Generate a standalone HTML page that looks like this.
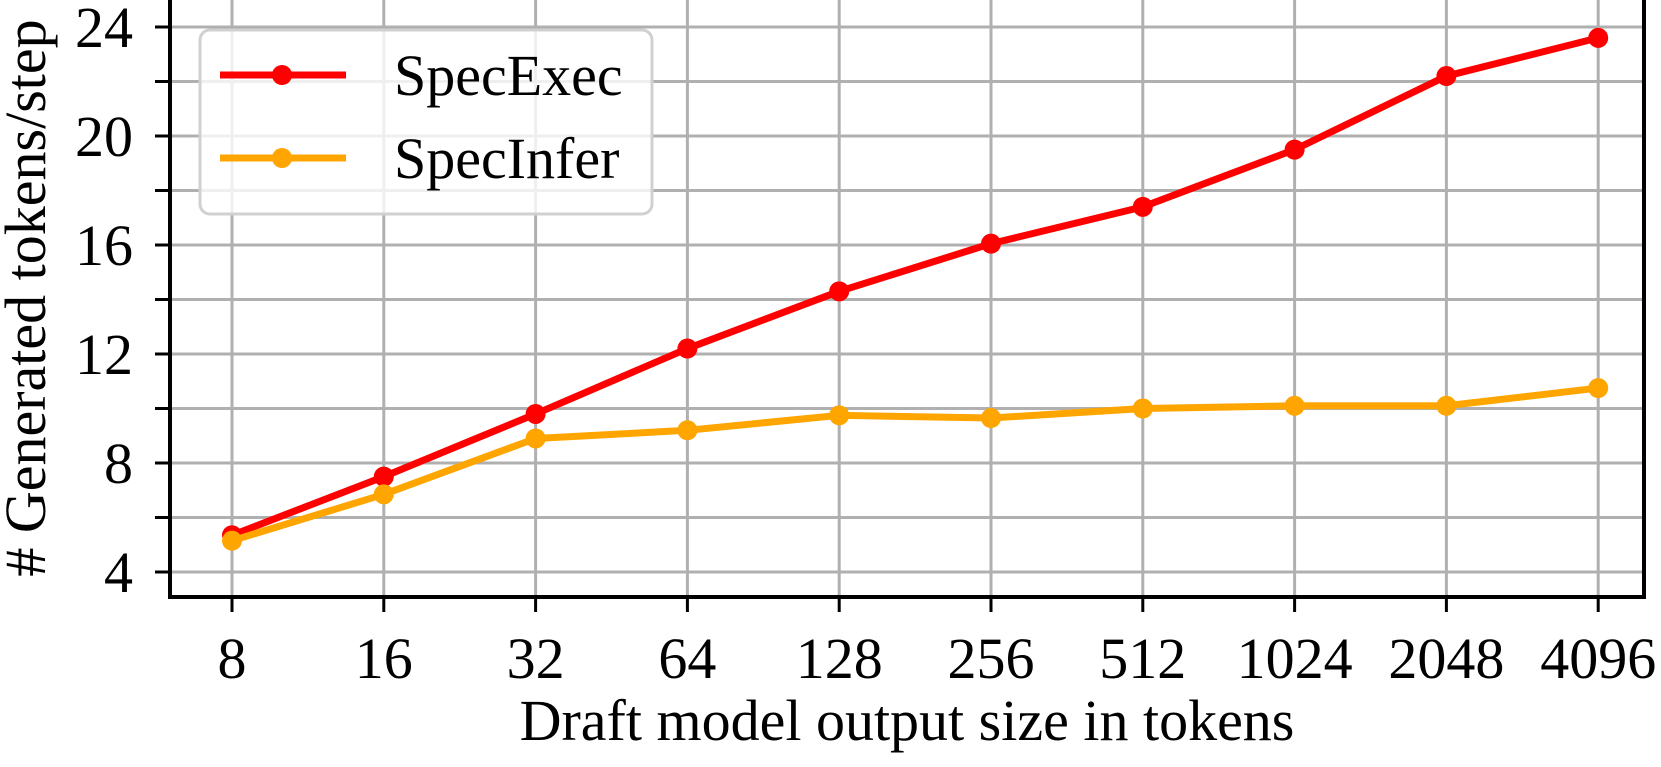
<!DOCTYPE html>
<html><head><meta charset="utf-8"><style>
html,body{margin:0;padding:0;background:#fff;}
text{font-family:"Liberation Serif","Times New Roman",serif !important;fill:#000;}
</style></head><body>
<svg id="chart" width="1661" height="762" xmlns="http://www.w3.org/2000/svg" font-family="Liberation Serif, serif">
<g id="grid"></g>
<g id="axes"></g>
<g id="series"></g>
<g id="legend">
<rect x="200" y="30" width="452" height="184" rx="10" fill="rgba(255,255,255,0.8)" stroke="#d0d0d0" stroke-width="3"/>
<line x1="220" y1="75" x2="346" y2="75" stroke="#ff0000" stroke-width="7"/>
<circle cx="282" cy="75" r="10" fill="#ff0000"/>
<text x="394" y="95" font-size="58" font-family="Liberation Serif, serif">SpecExec</text>
<line x1="220" y1="158" x2="346" y2="158" stroke="#ffa500" stroke-width="7"/>
<circle cx="282" cy="158" r="10" fill="#ffa500"/>
<text x="394" y="178" font-size="58" font-family="Liberation Serif, serif">SpecInfer</text>
</g>
<text x="907" y="740" font-size="58" font-family="Liberation Serif, serif" text-anchor="middle">Draft model output size in tokens</text>
<text transform="translate(45,298) rotate(-90)" font-size="58" font-family="Liberation Serif, serif" text-anchor="middle"># Generated tokens/step</text>
</svg>
<script>
const categories=["8","16","32","64","128","256","512","1024","2048","4096"];
const specExec=[5.35,7.5,9.8,12.2,14.3,16.05,17.4,19.5,22.2,23.6];
const specInfer=[5.15,6.85,8.9,9.2,9.75,9.65,10.0,10.1,10.1,10.75];
const yTicks=[4,8,12,16,20,24];
const yGridVals=[4,6,8,10,12,14,16,18,20,22,24];
const NS="http://www.w3.org/2000/svg";
const L=170,R=1644,T=0,B=597;
function xs(i){return 232+i*151.8;}
function ys(v){return 572-(v-4)*27.25;}
function mk(tag,attrs,parent){const e=document.createElementNS(NS,tag);for(const k in attrs)e.setAttribute(k,attrs[k]);parent.appendChild(e);return e;}
const grid=document.getElementById('grid'),axes=document.getElementById('axes'),series=document.getElementById('series');
categories.forEach((c,i)=>{
 const g=mk('line',{x1:xs(i),x2:xs(i),y1:T,y2:B,stroke:'#b0b0b0','stroke-width':3},grid);
 
 
 const t=mk('line',{x1:xs(i),x2:xs(i),y1:B,y2:B+15,stroke:'#000','stroke-width':3},axes);
 
 
 const l=mk('text',{x:xs(i),y:678,'font-size':58,'font-family':'Liberation Serif, serif','text-anchor':'middle'},axes);
 l.textContent=c;
 
 
});
yGridVals.forEach(v=>{
 const g=mk('line',{x1:L,x2:R,y1:ys(v),y2:ys(v),stroke:'#b0b0b0','stroke-width':3},grid);
 
 
 const t=mk('line',{x1:L-15,x2:L,y1:ys(v),y2:ys(v),stroke:'#000','stroke-width':3},axes);
 
 
});
yTicks.forEach(v=>{
 const l=mk('text',{x:133,y:ys(v)+20,'font-size':58,'font-family':'Liberation Serif, serif','text-anchor':'end'},axes);
 l.textContent=v;
 
 
});
const sp=mk('path',{d:`M${L},${T} V${B} H${R} V${T}`,fill:'none',stroke:'#000','stroke-width':4},axes);


function draw(vals,color,name){
 const p=mk('polyline',{points:vals.map((v,i)=>xs(i)+','+ys(v)).join(' '),fill:'none',stroke:color,'stroke-width':7,'stroke-linejoin':'round'},series);
 
 
 vals.forEach((v,i)=>{
  const c=mk('circle',{cx:xs(i),cy:ys(v),r:10,fill:color},series);
  
  
 });
}
draw(specExec,'#ff0000','specexec');
draw(specInfer,'#ffa500','specinfer');
document.getElementById('chart').appendChild(document.getElementById('legend'));
</script>
</body></html>
